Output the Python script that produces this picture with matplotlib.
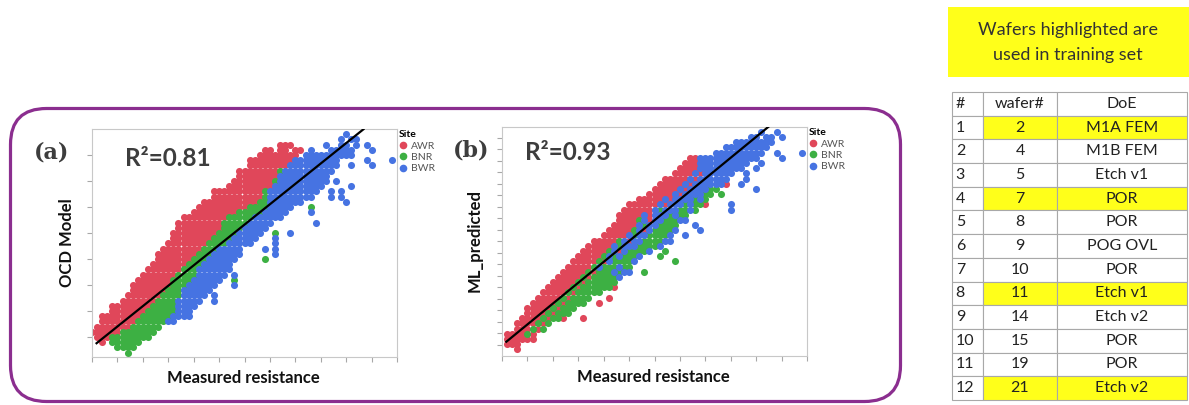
import numpy as np
import matplotlib.pyplot as plt
from matplotlib.patches import FancyBboxPatch, Rectangle
from matplotlib.lines import Line2D

plt.rcParams['font.family'] = ['Lato', 'DejaVu Sans']

sites = ['AWR', 'BNR', 'BWR']
site_colors = {'r': '#e0475a', 'g': '#3db043', 'b': '#4673e2'}

# scatter clouds, one string per row of points
# token: colour letter + column range (column * 0.2 = measured resistance)
rows_a = [
    "b50",
    "b49 b51 b52",
    "r37-39 b46 b49 b50 b52 b54",
    "r34 r35 r37 r38 r40 r41 b43 b47-51 b55",
    "r33-40 b42-51",
    "r31-39 b40-48 b54 b59",
    "r31-38 b39-48 b51 b55",
    "r29-36 g37 b38-47",
    "r29-36 b37-46",
    "r28-35 g36 b37-46 b48",
    "r27-35 b36-45 b51",
    "r24-33 g34 b35-44 b47 b49",
    "r24-33 g34 b35-43 b47 b49",
    "r22-32 g33 g34 b35-41 b50",
    "r21-30 g31-34 b35-39 g43",
    "r20-28 g29-33 b34-38 b43",
    "r18-26 g27-31 b32-37",
    "r17-25 g26-30 b31-35 b44",
    "r17-25 g26-29 b30-34",
    "r16-24 g25-28 b29-33 g36 b39",
    "r16-23 g24-27 b28-32 b36",
    "r15-22 g23-26 b27-31 b36",
    "r14-21 g22-24 b25-29 b34 b36",
    "r13-20 g21-23 b24-29 b36",
    "r13-19 g20-22 b23-28 g34",
    "r12-18 g19-21 b22-27",
    "r11-17 g18-20 b21-27",
    "r10-16 g17-20 b21-26 b28",
    "r9-15 g16-19 b20-25 g28",
    "r8-15 g16-18 b19-24 b28",
    "r8-14 g15-17 b18-23",
    "r7-13 g14-17 b18-22 b24",
    "r6-12 g13-16 b17-21 b24",
    "r4-11 g12-16 b17-20",
    "r4-10 g11-16 b17-19",
    "r2-9 g10-15 b16-19",
    "r2-8 g9-14 b15-16",
    "r1-7 g8-13",
    "r0-5 g6-12",
    "r1-3 g4-11",
    "r2 g4-9",
    "g5-8",
    "g7",
]
a_top, a_dy = 8.8, 0.2          # OCD model value of first row, row step

rows_b = [
    "b51 b54",
    "b49 b50 b52 b53 b55",
    "b46-53",
    "b44-52",
    "b42-51 b54 b59",
    "r37 r38 b39-50 b55",
    "r36-38 b39-48 b51",
    "r35-38 b39-47 b50",
    "r34-37 b38 r39 b40-45 b48",
    "r32-36 b37 r38 b39-44 b48",
    "r31-35 b36 r37 b38-43 r44 b47",
    "r30-34 b35 r36 b37-40 g41 g42 b50",
    "r29-33 b34 r35 b36-39 g40 g41 g43",
    "r27-31 b32 r33 b34-37 g38 b39 g40",
    "r25-30 b31 r32 b33-35 g36 b37 g38 g39 r40 b45",
    "r24-29 b30 g31 b32-34 g35 g36 b37 g38 b45",
    "r23-27 b28 r29 b30-32 g33 b34 g35 g36",
    "r23-26 g27 b28 r29 b30 b31 g32-34 b35 b36",
    "r22-26 b27 g28 b29 b30 g31-34 b38",
    "r21-25 g26 b27 r28 b29 g30-33 b34 b39",
    "r20-24 b25 g26 b27 b28 g29-32 b33 b36",
    "r18-22 g23 b24 r25 b26 b27 g28-31 b32 b33",
    "r17-21 b22 g23 b24-26 g27-30 b31",
    "r16-20 g21 b22 r23 b24 g25-28 b29 g32",
    "r15-19 g20 b21 g22 b23 g24-26 b27 g31",
    "r14-18 g19 r20 b21 g22-25 b26 g34",
    "r13-17 g18 b19 g20-22 b23 g24 g25",
    "r12-16 g17 r18 g19-21 b22 g23 b24 b25 g28",
    "r11-15 g16 r17 g18-22 b23",
    "r10-14 g15 r16 g17-22",
    "r9-13 g14 r15 g16-21 r22",
    "r8-12 g13 r14 g15-19",
    "r7-11 g12 r13 g14-17 r21",
    "r6-10 g11 r12 g13-16 r19",
    "r5-9 g10 r11 g12-14",
    "r5-8 g9 r10 g11-13",
    "r4-7 g8 r9 g10 g11 r12 r16",
    "r3-6 g7 r8 g9",
    "r3-5 g6 r7 g8",
    "r1-4 g5 r6",
    "r1-6",
    "r1-3",
    "r3",
]
b_top, b_dy = 19.5, 0.45
col_dx = 0.2

# fitted lines (end points in data units)
fit_a_x, fit_a_y = [0.18, 10.68], [0.76, 8.99]
fit_b_x, fit_b_y = [0.17, 10.55], [1.26, 20.07]

# table
row_no = list(range(1, 13))
wafers = [2, 4, 5, 7, 8, 9, 10, 11, 14, 15, 19, 21]
doe = ['M1A FEM', 'M1B FEM', 'Etch v1', 'POR', 'POR', 'POG OVL',
       'POR', 'Etch v1', 'Etch v2', 'POR', 'POR', 'Etch v2']
in_training = [True, False, False, True, False, False,
               False, True, False, False, False, True]


def read_rows(rows, top, dy):
    pts = {k: ([], []) for k in 'rgb'}
    for i, row in enumerate(rows):
        for tok in row.split():
            lo, _, hi = tok[1:].partition('-')
            for c in range(int(lo), int(hi or lo) + 1):
                pts[tok[0]][0].append(c * col_dx)
                pts[tok[0]][1].append(top - dy * i)
    return pts


def panel(rect, pts, yticks, ylim, fx, fy):
    ax = fig.add_axes(rect, zorder=1)
    ax.patch.set_visible(False)
    for key in 'rgb':
        ax.scatter(pts[key][0], pts[key][1], s=26, c=site_colors[key],
                   linewidths=0, zorder=2)
    ax.plot(fx, fy, color='k', lw=1.6, zorder=3)
    ax.set_xlim(0, 12)
    ax.set_ylim(*ylim)
    ax.set_xticks(range(13))
    ax.set_yticks(yticks)
    ax.tick_params(labelbottom=False, labelleft=False, direction='out',
                   length=3.5, width=0.8, color='#a8a8a8')
    for s in ax.spines.values():
        s.set_color('#c8c8c8')
        s.set_linewidth(0.8)
    handles = [Line2D([], [], ls='', marker='o', ms=5.5, mec='none',
                      mfc=site_colors[k], label=n) for k, n in zip('rgb', sites)]
    leg = ax.legend(handles=handles, title='Site', loc='upper left',
                    bbox_to_anchor=(1.006, 0.995), frameon=False, fontsize=7.5,
                    borderpad=0, borderaxespad=0, handlelength=0.8,
                    handletextpad=0.4, labelspacing=0.2, alignment='left',
                    title_fontproperties={'weight': 'bold', 'size': 7.5})
    for t in leg.get_texts():
        t.set_color('#555555')
    return ax


fig = plt.figure(figsize=(11.89, 4.05), dpi=100)

bg = fig.add_axes([0, 0, 1, 1], zorder=0)
bg.set_xlim(0, 1189)
bg.set_ylim(405, 0)
bg.axis('off')
bg.add_patch(FancyBboxPatch((10.5, 108.5), 890, 293,
                            boxstyle='round,pad=0,rounding_size=36',
                            fill=False, ec='#8b2e8f', lw=2.3))
bg.add_patch(Rectangle((948, 7), 241, 70, fc='#ffff1a', ec='none'))
bg.text(1068, 30, 'Wafers highlighted are', ha='center', va='center',
        fontsize=13, color='#333333')
bg.text(1068, 55, 'used in training set', ha='center', va='center',
        fontsize=13, color='#333333')

pts_a = read_rows(rows_a, a_top, a_dy)
pts_b = read_rows(rows_b, b_top, b_dy)
panel([92 / 1189, 1 - 357 / 405, 305 / 1189, 228 / 405], pts_a,
      range(1, 9), (0.23, 9.0), fit_a_x, fit_a_y)
panel([502 / 1189, 1 - 356 / 405, 305 / 1189, 229 / 405], pts_b,
      range(1, 20), (0.02, 19.93), fit_b_x, fit_b_y)

# labels on top of everything
fg = fig.add_axes([0, 0, 1, 1], zorder=2)
fg.set_xlim(0, 1189)
fg.set_ylim(405, 0)
fg.axis('off')

label_kw = dict(fontsize=12, fontweight='bold', color='#111111',
                ha='center', va='center')
tag_kw = dict(fontsize=16, fontweight='bold', family='DejaVu Serif',
              color='#3d3d3d', ha='center', va='center')
r2_kw = dict(fontsize=17.5, fontweight='bold', color='#3d3d3d',
             ha='left', va='center')

fg.text(52, 152, '(a)', **tag_kw)
fg.text(125, 158, 'R²=0.81', **r2_kw)
fg.text(67, 243, 'OCD Model', rotation=90, **label_kw)
fg.text(243, 378, 'Measured resistance', **label_kw)

fg.text(471, 150, '(b)', **tag_kw)
fg.text(525, 153, 'R²=0.93', **r2_kw)
fg.text(475, 240, 'ML_predicted', rotation=90, **label_kw)
fg.text(653, 377, 'Measured resistance', **label_kw)

# wafer table
ax_t = fig.add_axes([952 / 1189, 1 - 400 / 405, 235 / 1189, 308 / 405])
ax_t.axis('off')
yel = '#ffff1a'
cell_text = [['#', 'wafer#', 'DoE']]
cell_col = [['white'] * 3]
for n, w, d, t in zip(row_no, wafers, doe, in_training):
    cell_text.append([str(n), str(w), d])
    c = yel if t else 'white'
    cell_col.append(['white', c, c])
tab = ax_t.table(cellText=cell_text, cellColours=cell_col, cellLoc='center',
                 colWidths=[31 / 235, 74 / 235, 130 / 235], bbox=[0, 0, 1, 1])
tab.auto_set_font_size(False)
for (r, c), cell in tab.get_celld().items():
    cell.set_edgecolor('#a8a8a8')
    cell.set_linewidth(0.8)
    cell.get_text().set_fontsize(11.5)
    cell.get_text().set_color('#222222')
    if c == 0:
        cell.get_text().set_ha('left')
        cell._loc = 'left'
        cell.PAD = 0.12

fig.savefig('out.png', dpi=100)
